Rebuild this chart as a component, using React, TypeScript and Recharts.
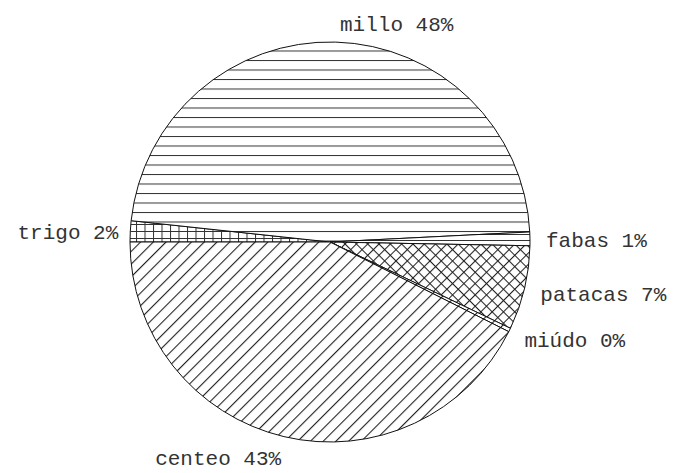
import { PieChart, Pie, Cell } from 'recharts';

const CROPS = ['trigo', 'millo', 'fabas', 'patacas', 'miúdo', 'centeo'];
const SHARES = [1.7, 47.5, 1.1, 6.8, 0.3, 42.6];
const FILLS = ['url(#grid)', 'url(#horiz)', 'url(#horizFine)', 'url(#cross)', 'url(#diag)', 'url(#diag)'];

const data = CROPS.map((name, i) => ({ name, value: SHARES[i] }));

const RADIAN = Math.PI / 180;
const FONT = '"Liberation Mono", "DejaVu Sans Mono", monospace';

// labels sit a little outside the rim, left-aligned on the right half, right-aligned on the left
const renderLabel = (props: any) => {
  const { cx, cy, midAngle, outerRadius, name, percent } = props;
  const cos = Math.cos(-midAngle * RADIAN);
  const sin = Math.sin(-midAngle * RADIAN);
  const x = cx + outerRadius * 1.06 * cos + (cos >= 0 ? 4 : 0);
  const y = cy + outerRadius * 1.1 * sin + 3;
  return (
    <text
      x={x}
      y={y}
      textAnchor={cos >= 0 ? 'start' : 'end'}
      dominantBaseline="central"
      fill="#333"
      fontFamily={FONT}
      fontSize={21}
    >
      {`${name} ${(percent * 100).toFixed(0)}%`}
    </text>
  );
};

const Patterns = () => (
  <svg width={0} height={0} style={{ position: 'absolute' }}>
    <defs>
      <pattern id="horiz" patternUnits="userSpaceOnUse" width={10} height={9.5} y={3}>
        <rect width={10} height={9.5} fill="#fff" />
        <line x1={0} y1={0.5} x2={10} y2={0.5} stroke="#333" strokeWidth={1} />
      </pattern>
      <pattern id="horizFine" patternUnits="userSpaceOnUse" width={10} height={6}>
        <rect width={10} height={6} fill="#fff" />
        <line x1={0} y1={0.5} x2={10} y2={0.5} stroke="#333" strokeWidth={1} />
      </pattern>
      <pattern id="grid" patternUnits="userSpaceOnUse" width={8.5} height={7}>
        <rect width={8.5} height={7} fill="#fff" />
        <line x1={0} y1={0.5} x2={8.5} y2={0.5} stroke="#333" strokeWidth={1} />
        <line x1={0.5} y1={0} x2={0.5} y2={7} stroke="#333" strokeWidth={1} />
      </pattern>
      <pattern id="diag" patternUnits="userSpaceOnUse" width={9} height={9} patternTransform="rotate(45)">
        <rect width={9} height={9} fill="#fff" />
        <line x1={0.5} y1={0} x2={0.5} y2={9} stroke="#222" strokeWidth={1.2} />
      </pattern>
      <pattern id="cross" patternUnits="userSpaceOnUse" width={8} height={8} patternTransform="rotate(45)">
        <rect width={8} height={8} fill="#fff" />
        <line x1={0.5} y1={0} x2={0.5} y2={8} stroke="#222" strokeWidth={1.1} />
        <line x1={0} y1={0.5} x2={8} y2={0.5} stroke="#222" strokeWidth={1.1} />
      </pattern>
    </defs>
  </svg>
);

const App = () => {
  return (
    <div style={{ position: 'absolute', left: 0, top: 0, background: '#fff' }}>
      <Patterns />
      <PieChart width={675} height={473}>
        <Pie
          data={data}
          dataKey="value"
          nameKey="name"
          cx={325}
          cy={237}
          outerRadius={200}
          startAngle={180}
          endAngle={-180}
          stroke="#111"
          strokeWidth={1}
          label={renderLabel}
          labelLine={false}
          isAnimationActive={false}
        >
          {data.map((entry, index) => (
            <Cell key={`cell-${entry.name}`} fill={FILLS[index]} />
          ))}
        </Pie>
      </PieChart>
    </div>
  );
};

export default App;
